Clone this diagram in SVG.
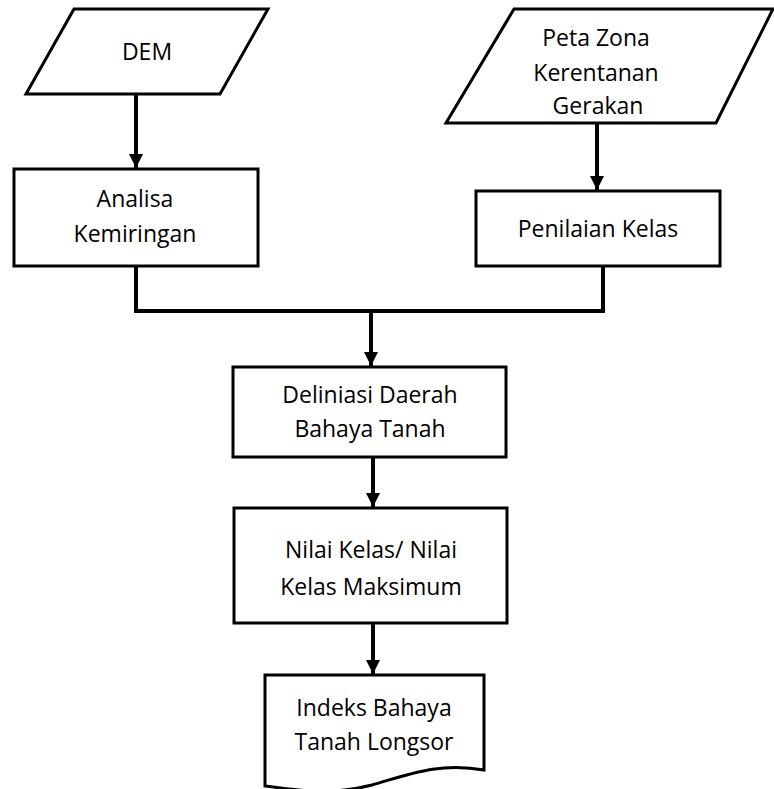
<svg xmlns="http://www.w3.org/2000/svg" width="774" height="789" viewBox="0 0 774 789">
  <style>
    .shape { fill: #ffffff; stroke: #000000; stroke-width: 3; stroke-linejoin: miter; }
    .link { fill: none; stroke: #000000; stroke-width: 4; }
    .label { font-family: "Open Sans", "Noto Sans", sans-serif; font-size: 23px; fill: #000000; text-anchor: middle; }
  </style>
  <defs>
    <marker id="arrow" markerUnits="userSpaceOnUse" viewBox="0 0 14 14" markerWidth="14" markerHeight="14" refX="14" refY="7" orient="auto">
      <path d="M0,0 L14,7 L0,14 Z" fill="#000000"/>
    </marker>
  </defs>

  <rect width="774" height="789" fill="#ffffff"/>

  <!-- connectors -->
  <g id="connectors">
    <line class="link" x1="136" y1="94" x2="136" y2="168" marker-end="url(#arrow)"/>
    <line class="link" x1="597" y1="123" x2="597" y2="190" marker-end="url(#arrow)"/>
    <polyline class="link" points="136,266 136,311 603,311 603,266"/>
    <line class="link" x1="371" y1="311" x2="371" y2="366" marker-end="url(#arrow)"/>
    <line class="link" x1="373" y1="457" x2="373" y2="507" marker-end="url(#arrow)"/>
    <line class="link" x1="373" y1="623" x2="373" y2="674" marker-end="url(#arrow)"/>
  </g>

  <!-- input: DEM -->
  <g id="dem">
    <polygon class="shape" points="74,9 268,9 220,94 26,94"/>
    <text class="label" x="147" y="60">DEM</text>
  </g>

  <!-- input: susceptibility zone map -->
  <g id="peta-zona">
    <polygon class="shape" points="514,9 773,9 716,123 446,123"/>
    <text class="label" x="596" y="46">Peta Zona</text>
    <text class="label" x="596" y="81">Kerentanan</text>
    <text class="label" x="598" y="114">Gerakan</text>
  </g>

  <!-- slope analysis -->
  <g id="analisa-kemiringan">
    <rect class="shape" x="14" y="169" width="244" height="97"/>
    <text class="label" x="135" y="207">Analisa</text>
    <text class="label" x="135" y="242">Kemiringan</text>
  </g>

  <!-- class scoring -->
  <g id="penilaian-kelas">
    <rect class="shape" x="476" y="191" width="244" height="75"/>
    <text class="label" x="598" y="237">Penilaian Kelas</text>
  </g>

  <!-- hazard area delineation -->
  <g id="deliniasi">
    <rect class="shape" x="233" y="367" width="273" height="90"/>
    <text class="label" x="370" y="403">Deliniasi Daerah</text>
    <text class="label" x="370" y="437">Bahaya Tanah</text>
  </g>

  <!-- class value ratio -->
  <g id="nilai-kelas">
    <rect class="shape" x="234" y="508" width="273" height="115"/>
    <text class="label" x="371" y="558">Nilai Kelas/ Nilai</text>
    <text class="label" x="371" y="595">Kelas Maksimum</text>
  </g>

  <!-- output document: landslide hazard index -->
  <g id="indeks-bahaya">
    <path class="shape" d="M265,675 L484,675 L484,770 C440,762 410,774 372,785 C330,796 295,790 265,786 Z"/>
    <text class="label" x="374" y="716">Indeks Bahaya</text>
    <text class="label" x="374" y="750">Tanah Longsor</text>
  </g>
</svg>
